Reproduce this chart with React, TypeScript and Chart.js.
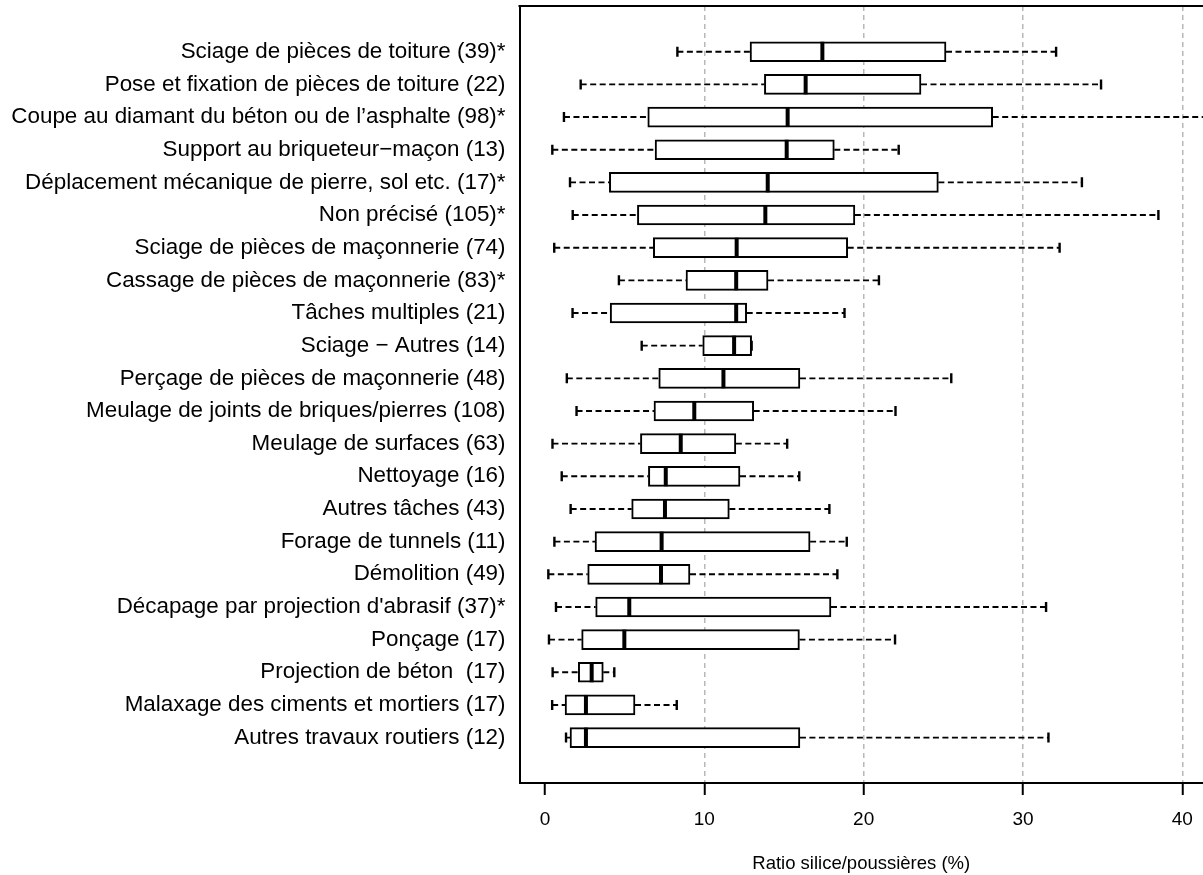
import React, { useEffect, useRef } from "react";
import { Chart, registerables } from "chart.js";

Chart.register(...registerables);

const categories = [
  "Sciage de pièces de toiture (39)*",
  "Pose et fixation de pièces de toiture (22)",
  "Coupe au diamant du béton ou de l’asphalte (98)*",
  "Support au briqueteur−maçon (13)",
  "Déplacement mécanique de pierre, sol etc. (17)*",
  "Non précisé (105)*",
  "Sciage de pièces de maçonnerie (74)",
  "Cassage de pièces de maçonnerie (83)*",
  "Tâches multiples (21)",
  "Sciage − Autres (14)",
  "Perçage de pièces de maçonnerie (48)",
  "Meulage de joints de briques/pierres (108)",
  "Meulage de surfaces (63)",
  "Nettoyage (16)",
  "Autres tâches (43)",
  "Forage de tunnels (11)",
  "Démolition (49)",
  "Décapage par projection d'abrasif (37)*",
  "Ponçage (17)",
  "Projection de béton  (17)",
  "Malaxage des ciments et mortiers (17)",
  "Autres travaux routiers (12)",
];

const whiskerLow = [8.31, 2.24, 1.19, 0.46, 1.57, 1.74, 0.58, 4.64, 1.73, 6.07, 1.37, 1.98, 0.47, 1.05, 1.61, 0.59, 0.21, 0.69, 0.25, 0.48, 0.45, 1.32];
const q1 = [12.87, 13.77, 6.45, 6.91, 4.04, 5.8, 6.8, 8.85, 4.09, 9.9, 7.14, 6.84, 5.99, 6.49, 5.44, 3.14, 2.68, 3.18, 2.3, 2.09, 1.26, 1.57];
const medians = [17.41, 16.36, 15.23, 15.17, 13.98, 13.83, 12.03, 12.0, 12.0, 11.87, 11.2, 9.37, 8.52, 7.58, 7.53, 7.32, 7.28, 5.29, 4.98, 2.93, 2.57, 2.57];
const q3 = [25.17, 23.6, 28.1, 18.16, 24.69, 19.45, 19.0, 14.0, 12.66, 12.97, 16.0, 13.1, 11.98, 12.24, 11.57, 16.64, 9.1, 17.95, 15.97, 3.66, 5.65, 16.0];
const whiskerHigh = [32.08, 34.9, 43.5, 22.2, 33.7, 38.5, 32.3, 20.96, 18.8, 12.97, 25.5, 22.0, 15.2, 15.96, 17.85, 18.94, 18.35, 31.45, 21.97, 4.35, 8.27, 31.6];

const xTicks = [0, 10, 20, 30, 40];
const gridValues = [10, 20, 30, 40];
const xTitle = "Ratio silice/poussières (%)";

const FONT = "'Liberation Sans', Arial, Helvetica, sans-serif";
const BOX_HALF = 10;

const boxPlugin = {
  id: "boxExtras",
  beforeDatasetsDraw(chart: any) {
    const { ctx, scales } = chart;
    const xs = scales.x;
    const ys = scales.y;
    ctx.save();
    ctx.strokeStyle = "#000";
    for (let i = 0; i < categories.length; i++) {
      const y = ys.getPixelForValue(i);
      const xl = xs.getPixelForValue(whiskerLow[i]);
      const x1 = xs.getPixelForValue(q1[i]);
      const x3 = xs.getPixelForValue(q3[i]);
      const xh = xs.getPixelForValue(whiskerHigh[i]);
      ctx.lineWidth = 1.9;
      ctx.setLineDash([6, 3.5]);
      ctx.beginPath();
      ctx.moveTo(xl, y);
      ctx.lineTo(x1, y);
      ctx.moveTo(x3, y);
      ctx.lineTo(xh, y);
      ctx.stroke();
      ctx.setLineDash([]);
      ctx.lineWidth = 2.4;
      ctx.beginPath();
      ctx.moveTo(xl, y - BOX_HALF / 2);
      ctx.lineTo(xl, y + BOX_HALF / 2);
      ctx.moveTo(xh, y - BOX_HALF / 2);
      ctx.lineTo(xh, y + BOX_HALF / 2);
      ctx.stroke();
    }
    ctx.restore();
  },
  afterDatasetsDraw(chart: any) {
    const { ctx, scales, chartArea } = chart;
    const xs = scales.x;
    const ys = scales.y;
    ctx.save();
    ctx.strokeStyle = "#000";
    ctx.lineWidth = 4;
    for (let i = 0; i < categories.length; i++) {
      const y = ys.getPixelForValue(i);
      const xm = xs.getPixelForValue(medians[i]);
      ctx.beginPath();
      ctx.moveTo(xm, y - BOX_HALF);
      ctx.lineTo(xm, y + BOX_HALF);
      ctx.stroke();
    }
    ctx.lineWidth = 2;
    ctx.beginPath();
    ctx.moveTo(chartArea.left - 1, chartArea.top);
    ctx.lineTo(chartArea.right + 2, chartArea.top);
    ctx.stroke();
    ctx.restore();
  },
};

export default function App() {
  const ref = useRef<HTMLCanvasElement | null>(null);
  useEffect(() => {
    document.body.style.margin = "0";
    document.body.style.background = "#fff";
    Chart.defaults.font.family = FONT;
    const canvas = ref.current!;
    const chart = new Chart(canvas, {
      type: "bar",
      data: {
        datasets: [
          {
            data: categories.map((_, i) => ({ y: i, x: [q1[i], q3[i]] })) as any,
            backgroundColor: "#ffffff",
            borderColor: "#000000",
            borderWidth: 2,
            borderSkipped: false,
            barThickness: BOX_HALF * 2,
          },
        ],
      },
      options: {
        animation: false,
        responsive: false,
        indexAxis: "y",
        layout: { padding: { top: 6, left: 0, right: 0, bottom: 0 } },
        plugins: { legend: { display: false }, tooltip: { enabled: false } },
        scales: {
          x: {
            type: "linear",
            position: "bottom",
            min: -1.6,
            max: 41.3,
            offset: false,
            afterBuildTicks: (s: any) => {
              s.ticks = xTicks.map((v) => ({ value: v }));
            },
            afterFit: (s: any) => {
              s.height = 92;
              s.paddingLeft = 0;
              s.paddingRight = 0;
            },
            grid: {
              color: (c: any) =>
                c.tick && gridValues.includes(c.tick.value) ? "#b8b8b8" : "rgba(0,0,0,0)",
              lineWidth: 1.5,
              offset: false,
              drawTicks: true,
              tickLength: 12,
              tickColor: "#000",
              tickWidth: 2,
              tickBorderDash: [],
            } as any,
            border: { display: true, color: "#000", width: 2, dash: [5, 4] },
            ticks: {
              color: "#000",
              font: { size: 19, family: FONT },
              padding: 13,
              autoSkip: false,
              maxRotation: 0,
              callback: (v: any) => String(v),
            },
            title: {
              display: true,
              text: xTitle,
              color: "#000",
              font: { size: 18.5, family: FONT },
              padding: { top: 0, bottom: 0 },
            },
          },
          y: {
            type: "linear",
            reverse: true,
            offset: false,
            min: -1.4,
            max: 22.39,
            afterBuildTicks: (s: any) => {
              s.ticks = categories.map((_, i) => ({ value: i }));
            },
            afterFit: (s: any) => {
              s.width = 519.5;
              s.paddingTop = 0;
              s.paddingBottom = 0;
            },
            grid: { display: false, drawTicks: false, offset: false },
            border: { display: true, color: "#000", width: 2 },
            ticks: {
              color: "#000",
              font: { size: 22.4, family: FONT },
              padding: 14,
              autoSkip: false,
              callback: (v: any) => categories[v] ?? "",
            },
          },
        },
      },
      plugins: [boxPlugin],
    } as any);
    return () => chart.destroy();
  }, []);
  return <canvas ref={ref} width={1203} height={875} style={{ display: "block" }} />;
}
